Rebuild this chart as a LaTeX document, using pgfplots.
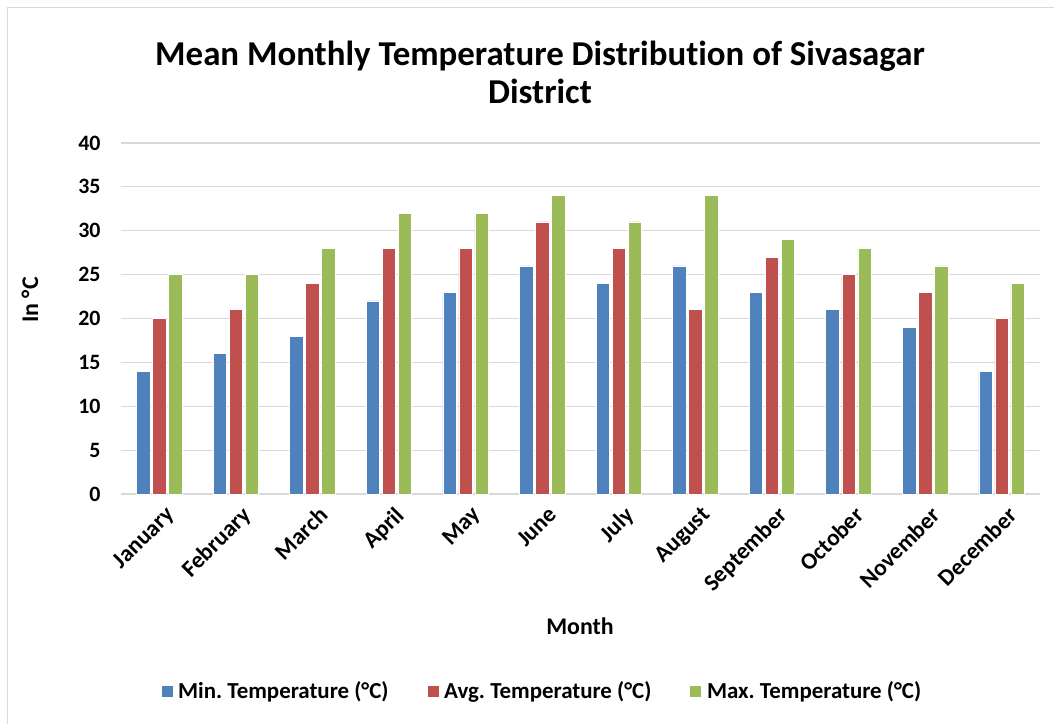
\documentclass[border=0pt]{standalone}
\usepackage{fontspec}
\setmainfont{Carlito}[Ligatures=NoCommon]
\usepackage{pgfplots}
\pgfplotsset{compat=1.18}
\definecolor{cblue}{HTML}{4F81BD}
\definecolor{cred}{HTML}{C0504D}
\definecolor{cgreen}{HTML}{9BBB59}
\definecolor{cgrid}{HTML}{D9D9D9}
\frenchspacing
\begin{document}
\begin{tikzpicture}
\useasboundingbox (-121bp,-230bp) rectangle (933bp,494bp);
\draw[cgrid, line width=1.5bp] (-113.5bp,-231bp) -- (-113.5bp,486.5bp) -- (934bp,486.5bp);
\begin{axis}[
  at={(0,0)}, anchor=south west,
  scale only axis, width=919bp, height=351bp,
  ybar=2.5bp, bar width=13.5bp,
  xmin=-0.5, xmax=11.5, ymin=0, ymax=40,
  ytick={0,5,...,40},
  xtick={0,...,11},
  xticklabels={January,February,March,April,May,June,July,August,September,October,November,December},
  major tick length=0,
  ymajorgrids, grid style={cgrid, line width=1.2bp},
  axis x line*=bottom, axis y line*=left,
  x axis line style={cgrid, line width=1.5bp, -},
  y axis line style={draw=none},
  /pgf/number format/assume math mode=true,
  yticklabel style={font=\bfseries\fontsize{22}{26}\selectfont, xshift=-17bp},
  xticklabel style={font=\bfseries\fontsize{23.5}{27}\selectfont, rotate=45, anchor=north east, yshift=-8bp, xshift=-1bp},
  legend columns=3,
  legend style={at={(axis description cs:0.458,-0.561)}, anchor=center, draw=none, fill=none,
    font=\bfseries\fontsize{23}{27}\selectfont,
    /tikz/every odd column/.append style={column sep=3bp},
    /tikz/every even column/.append style={column sep=36bp}},
  legend image code/.code={\fill[#1] (0bp,-6bp) rectangle (12bp,6bp);},
  every axis plot/.append style={draw=white, line width=0.6bp},
]
\addplot[fill=cblue] coordinates {(0,14) (1,16) (2,18) (3,22) (4,23) (5,26) (6,24) (7,26) (8,23) (9,21) (10,19) (11,14)};
\addplot[fill=cred] coordinates {(0,20) (1,21) (2,24) (3,28) (4,28) (5,31) (6,28) (7,21) (8,27) (9,25) (10,23) (11,20)};
\addplot[fill=cgreen] coordinates {(0,25) (1,25) (2,28) (3,32) (4,32) (5,34) (6,31) (7,34) (8,29) (9,28) (10,26) (11,24)};
\legend{Min. Temperature (°C), Avg. Temperature (°C), Max. Temperature (°C)}
\end{axis}
\node[font=\bfseries\fontsize{35}{40}\selectfont, align=center] at (419bp,422bp) {Mean Monthly Temperature Distribution of Sivasagar\\[-2bp]District};
\node[font=\bfseries\fontsize{24}{28}\selectfont] at (459bp,-132bp) {Month};
\node[font=\bfseries\fontsize{24}{28}\selectfont, rotate=90] at (-91bp,194bp) {In °C};
\end{tikzpicture}
\end{document}
